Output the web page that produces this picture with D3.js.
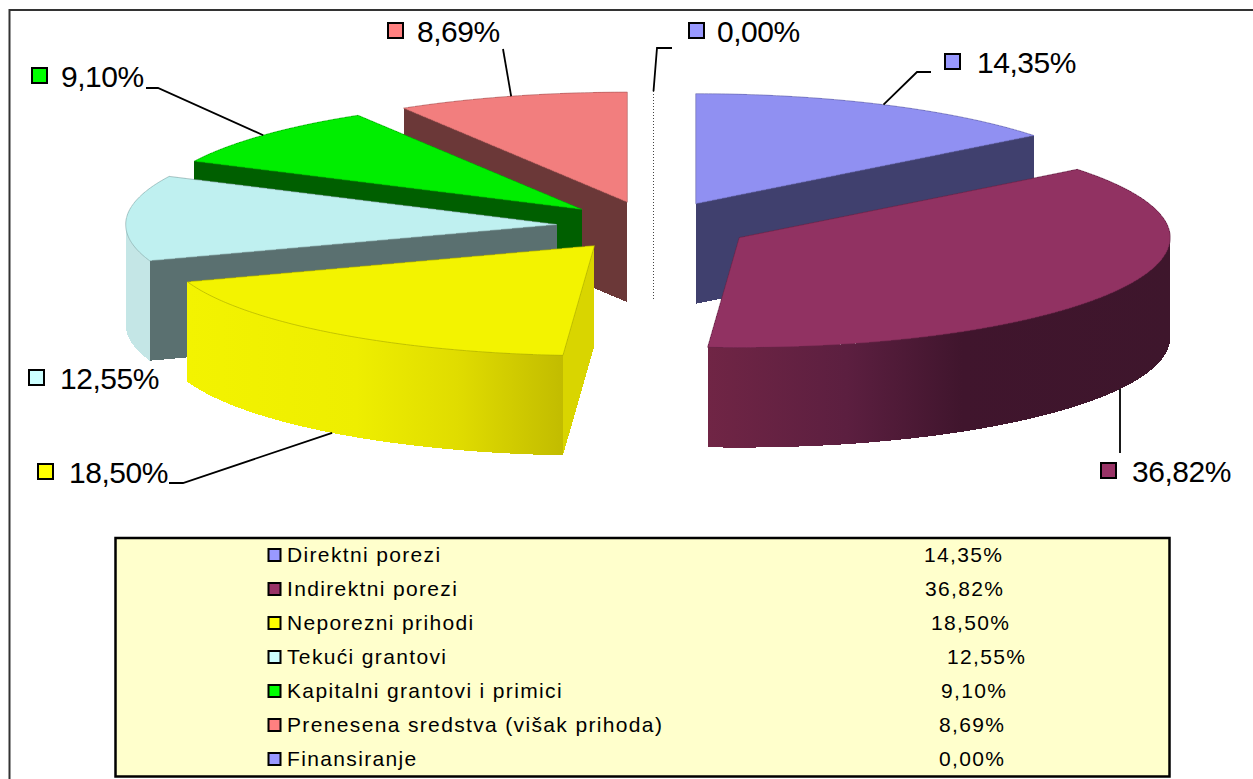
<html>
<head>
  <meta charset="UTF-8">
  <title>Prihodi</title>
  <script src="https://d3js.org/d3.v7.min.js"></script>
</head>
<style>
html, body { margin: 0; padding: 0; background: #fff; }
svg { display: block; }
text { font-family: "Liberation Sans", Arial, sans-serif; fill: #000; }
.label { font-size: 30px; letter-spacing: -0.45px; }
.legend-text { font-size: 21px; letter-spacing: 1.35px; }
</style>
<body>
  <script>

var categories = ['Direktni porezi', 'Indirektni porezi', 'Neporezni prihodi', 'Tekući grantovi',
  'Kapitalni grantovi i primici', 'Prenesena sredstva (višak prihoda)', 'Finansiranje'];
var shares = [14.35, 36.82, 18.50, 12.55, 9.10, 8.69, 0.00];

var swatchColors = ['#9999ff', '#993366', '#ffff00', '#ccffff', '#00ff00', '#ff8080', '#9999ff'];
var topColors = ['#9090f2', '#913262', '#f3f300', '#bff0f0', '#00ee00', '#f27e7e', '#9090f2'];
var sideColors = ['#40406e', '#40162e', '#d9d500', '#5a7070', '#005f00', '#6b3838', '#40406e'];
var wallStops = [
  null,
  [[0, '#702545'], [0.3, '#5c1f40'], [0.55, '#40152d'], [1, '#3e162c']],
  [[0, '#f3f300'], [0.45, '#eeee00'], [0.72, '#e0dc00'], [1, '#c2bc00']],
  [[0, '#c4e6e6'], [1, '#c4e6e6']],
  null, null, null
];

// where each data label sits, and the bend of its leader line
var labelX = [944, 1100, 37, 28, 31, 387, 688];
var labelY = [62, 471, 472, 378, 76, 31, 31];
var labelTextX = [33, 32, 32, 32, 30, 30, 29];
// null x means straight down from the rim
var leaderElbows = [
  [[917, 72], [931, 72]],
  [[null, 453]],
  [[183, 483], [169, 483]],
  null,
  [[158, 88], [146, 88]],
  [[503, 49]],
  [[657, 48], [672, 48]]
];
// the value column of the table is not aligned in the original
var tableValueX = [924, 925, 931, 947, 941, 939, 939];

var width = 1253,
    height = 779;

var cx = 653.5, cy = 226,
    rx = 431, ry = 110,
    depth = 100, explode = 0.225;

var svg = d3.select('body')
  .append('svg')
  .attr('width', width)
  .attr('height', height);

// page frame, only top and left are in the picture
svg.append('path')
  .attr('d', 'M1253,10 H9.5 V779')
  .attr('fill', 'none')
  .attr('stroke', '#333')
  .attr('stroke-width', 2);

var number = d3.formatLocale({decimal: ',', thousands: '.', grouping: [3], currency: ['', '']}).format('.2f');
var percent = function(v) { return number(v) + '%'; };

var slices = d3.pie().sort(null).value(function(d) { return d; })(shares);
var line = d3.line();

function apex(s) {
  var mid = (s.startAngle + s.endAngle) / 2;
  return [cx + explode * rx * Math.sin(mid), cy - explode * ry * Math.cos(mid)];
}

function rim(s, a, drop) {
  var c = apex(s);
  return [c[0] + rx * Math.sin(a), c[1] - ry * Math.cos(a) + (drop || 0)];
}

function arcAngles(a0, a1) {
  var n = Math.max(2, Math.ceil((a1 - a0) / 0.01));
  return d3.range(n + 1).map(function(i) { return a0 + (a1 - a0) * i / n; });
}

function topPath(s) {
  var pts = arcAngles(s.startAngle, s.endAngle).map(function(a) { return rim(s, a); });
  return line([apex(s)].concat(pts)) + 'Z';
}

function radiusWall(s, a) {
  var c = apex(s), r = rim(s, a);
  return line([c, r, [r[0], r[1] + depth], [c[0], c[1] + depth]]) + 'Z';
}

function outerWall(s, a0, a1) {
  var angles = arcAngles(a0, a1);
  var upper = angles.map(function(a) { return rim(s, a); });
  var lower = angles.slice().reverse().map(function(a) { return rim(s, a, depth); });
  return line(upper.concat(lower)) + 'Z';
}

var defs = svg.append('defs');
// no antialiasing on the pie, the original has rough stepped edges
var g = svg.append('g').attr('shape-rendering', 'crispEdges');

// back to front: the zero slice, then round to the big slice
var drawOrder = [6, 0, 5, 4, 3, 2, 1];

drawOrder.forEach(function(i) {
  var s = slices[i];
  if (s.endAngle - s.startAngle < 1e-6) {
    var top = rim(s, 0);
    g.append('line')
      .attr('x1', top[0]).attr('y1', top[1])
      .attr('x2', top[0]).attr('y2', top[1] + ry + depth)
      .attr('stroke', '#444')
      .attr('stroke-width', 1)
      .attr('stroke-dasharray', '1,2');
    return;
  }

  g.append('path').attr('d', radiusWall(s, s.endAngle)).attr('fill', sideColors[i]);
  g.append('path').attr('d', radiusWall(s, s.startAngle)).attr('fill', sideColors[i]);

  var a0 = Math.max(s.startAngle, Math.PI / 2),
      a1 = Math.min(s.endAngle, 3 * Math.PI / 2);
  if (a1 > a0) {
    var fill = sideColors[i];
    if (wallStops[i]) {
      var xs = arcAngles(a0, a1).map(function(a) { return rim(s, a)[0]; });
      var grad = defs.append('linearGradient')
        .attr('id', 'wall' + i)
        .attr('gradientUnits', 'userSpaceOnUse')
        .attr('x1', d3.min(xs)).attr('x2', d3.max(xs))
        .attr('y1', 0).attr('y2', 0);
      grad.selectAll('stop').data(wallStops[i]).enter().append('stop')
        .attr('offset', function(d) { return d[0]; })
        .attr('stop-color', function(d) { return d[1]; });
      fill = 'url(#wall' + i + ')';
    }
    g.append('path').attr('d', outerWall(s, a0, a1)).attr('fill', fill);
  }

  g.append('path')
    .attr('d', topPath(s))
    .attr('fill', topColors[i])
    .attr('stroke', d3.color(topColors[i]).darker(0.9))
    .attr('stroke-width', 0.7)
    .attr('stroke-linejoin', 'round');
});

// leader lines start on the rim at the middle of the slice
var leaders = svg.append('g');
slices.forEach(function(s, i) {
  if (!leaderElbows[i]) return;
  var mid = (s.startAngle + s.endAngle) / 2;
  var onFront = Math.cos(mid) < 0;
  var start = rim(s, mid, onFront ? depth : 0);
  var bends = leaderElbows[i].map(function(p) { return [p[0] === null ? start[0] : p[0], p[1]]; });
  leaders.append('path')
    .attr('d', line([start].concat(bends)))
    .attr('fill', 'none')
    .attr('stroke', '#000')
    .attr('stroke-width', 1.8);
});

// data labels with their little keys
var labels = svg.selectAll('.data-label')
  .data(shares)
  .enter()
  .append('g')
  .attr('class', 'data-label')
  .attr('transform', function(d, i) { return 'translate(' + labelX[i] + ',' + labelY[i] + ')'; });

labels.append('rect')
  .attr('x', 1).attr('y', -8)
  .attr('width', 15).attr('height', 15)
  .attr('fill', function(d, i) { return swatchColors[i]; })
  .attr('stroke', '#000')
  .attr('stroke-width', 2);

labels.append('text')
  .attr('class', 'label')
  .attr('x', function(d, i) { return labelTextX[i]; })
  .attr('dy', 11)
  .text(percent);

// table below the pie
svg.append('rect')
  .attr('x', 115.5).attr('y', 538)
  .attr('width', 1054).attr('height', 238.5)
  .attr('fill', '#ffffcc')
  .attr('stroke', '#000')
  .attr('stroke-width', 2.5);

var rowY = d3.scalePoint()
  .domain(categories)
  .range([555, 759]);

var rows = svg.selectAll('.row')
  .data(categories)
  .enter()
  .append('g')
  .attr('class', 'row')
  .attr('transform', function(d) { return 'translate(0,' + rowY(d) + ')'; });

rows.append('rect')
  .attr('x', 268.5).attr('y', -6)
  .attr('width', 12).attr('height', 12)
  .attr('fill', function(d, i) { return swatchColors[i]; })
  .attr('stroke', '#000')
  .attr('stroke-width', 2);

rows.append('text')
  .attr('class', 'legend-text')
  .attr('x', 287)
  .attr('dy', 7)
  .text(function(d) { return d; });

rows.append('text')
  .attr('class', 'legend-text')
  .attr('x', function(d, i) { return tableValueX[i]; })
  .attr('dy', 7)
  .text(function(d, i) { return percent(shares[i]); });

  </script>
</body>
</html>
